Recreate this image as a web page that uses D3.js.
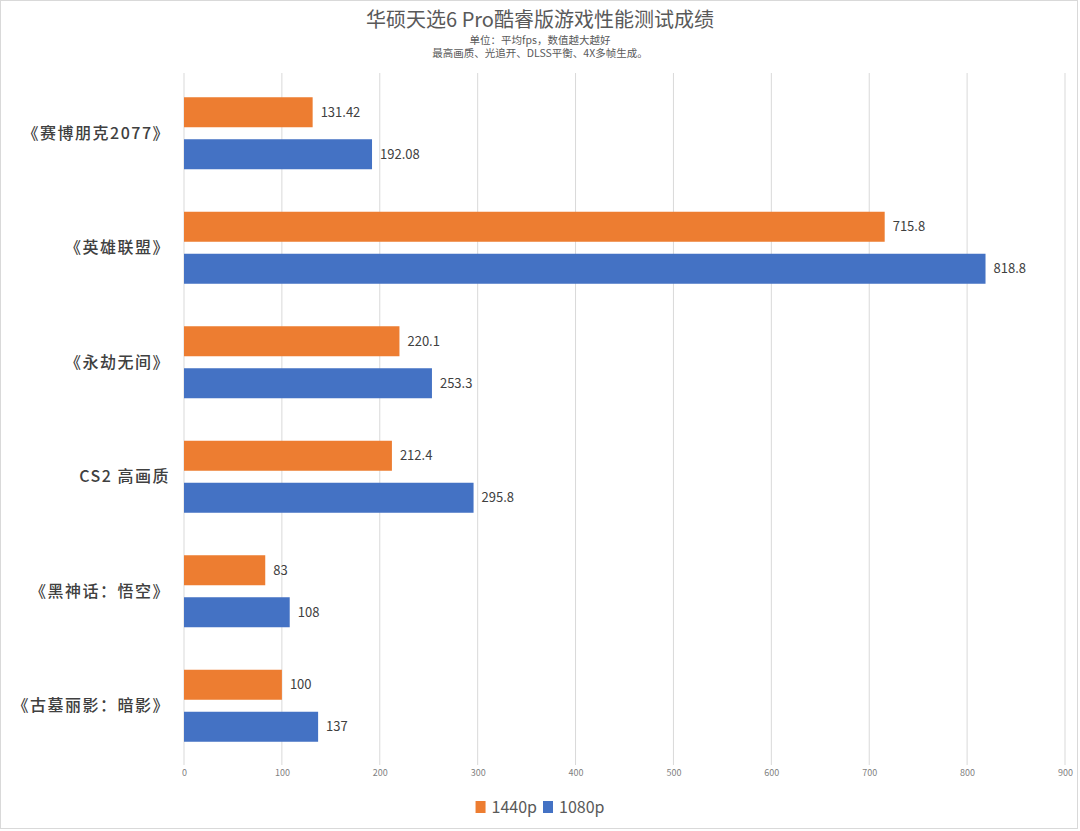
<!DOCTYPE html>
<html><head><meta charset="utf-8">
<script src="https://cdn.jsdelivr.net/npm/d3@7"></script>
<style>body{margin:0;background:#fff}svg{display:block}</style>
</head><body>
<svg id="c" width="1080" height="831"></svg>
<script>
const categories = ["《赛博朋克2077》","《英雄联盟》","《永劫无间》","CS2 高画质","《黑神话：悟空》","《古墓丽影：暗影》"];
const series = ["1440p","1080p"];
const values1440 = [131.42,715.8,220.1,212.4,83,100];
const values1080 = [192.08,818.8,253.3,295.8,108,137];
const xTicks = [0,100,200,300,400,500,600,700,800,900];
const colors = {"1440p":"#ED7D31","1080p":"#4472C4"};
const title = "华硕天选6 Pro酷睿版游戏性能测试成绩";
const subtitles = ["单位：平均fps，数值越大越好","最高画质、光追开、DLSS平衡、4X多帧生成。"];

const font = "'Noto Sans CJK SC','Noto Sans',sans-serif";
const svg = d3.select("#c");
svg.append("rect").attr("x",0.5).attr("y",0.5).attr("width",1077).attr("height",828)
  .attr("fill","#fff").attr("stroke","#d9d9d9");

const x = d3.scaleLinear().domain([0,900]).range([184,1065]);
const y0 = d3.scaleBand().domain(categories).range([76,763]);
const y1 = d3.scaleBand().domain(series).range([0,y0.bandwidth()]).paddingInner(12/42).paddingOuter(0.506);

// grid
svg.append("g").selectAll("line").data(xTicks).join("line")
  .attr("x1",d=>x(d)).attr("x2",d=>x(d)).attr("y1",73).attr("y2",765)
  .attr("stroke","#d9d9d9").attr("stroke-width",1);

// axis labels
const xAxis = d3.axisBottom(x).tickValues(xTicks).tickSize(0).tickPadding(0);
const ax = svg.append("g").attr("transform","translate(0,770)").call(xAxis);
ax.select(".domain").remove();
ax.selectAll("text").attr("font-family",font).attr("font-size",9).attr("fill","#7f7f7f");

const data = categories.map((c,i)=>({cat:c, vals:[{s:"1440p",v:values1440[i]},{s:"1080p",v:values1080[i]}]}));
const g = svg.append("g").selectAll("g").data(data).join("g")
  .attr("transform",d=>`translate(0,${y0(d.cat)})`);
g.selectAll("rect").data(d=>d.vals).join("rect")
  .attr("x",x(0)).attr("y",d=>y1(d.s)).attr("width",d=>x(d.v)-x(0)).attr("height",y1.bandwidth())
  .attr("fill",d=>colors[d.s]);
g.selectAll("text.v").data(d=>d.vals).join("text").attr("class","v")
  .attr("x",d=>x(d.v)+8).attr("y",d=>y1(d.s)+y1.bandwidth()/2).attr("dy","0.35em")
  .attr("font-family",font).attr("font-size",13).attr("fill","#404040").text(d=>d.v);

// category labels
svg.append("g").selectAll("text").data(categories).join("text")
  .attr("x",170).attr("y",d=>y0(d)+y0.bandwidth()/2).attr("dy","0.35em")
  .attr("text-anchor","end").attr("font-family",font).attr("font-size",16).attr("font-weight",500)
  .attr("letter-spacing",1.5)
  .attr("fill","#404040").text(d=>d);

// title
svg.append("text").attr("x",540).attr("y",27).attr("text-anchor","middle")
  .attr("font-family",font).attr("font-size",20).attr("fill","#595959").text(title);
subtitles.forEach((s,i)=>svg.append("text").attr("x",540).attr("y",44+i*13).attr("text-anchor","middle")
  .attr("font-family",font).attr("font-size",10.5).attr("fill","#595959").text(s));

// legend
const leg = svg.append("g");
let lx = 0;
series.forEach(s=>{
  leg.append("rect").attr("x",lx).attr("y",0).attr("width",10).attr("height",12).attr("fill",colors[s]);
  const t = leg.append("text").attr("x",lx+16).attr("y",6).attr("dy","0.35em")
    .attr("font-family",font).attr("font-size",16).attr("fill","#595959").text(s);
  lx += 16 + t.node().getComputedTextLength() + 6;
});
const lw = lx - 6;
leg.attr("transform",`translate(${540 - lw/2},801)`);
</script>
</body></html>
